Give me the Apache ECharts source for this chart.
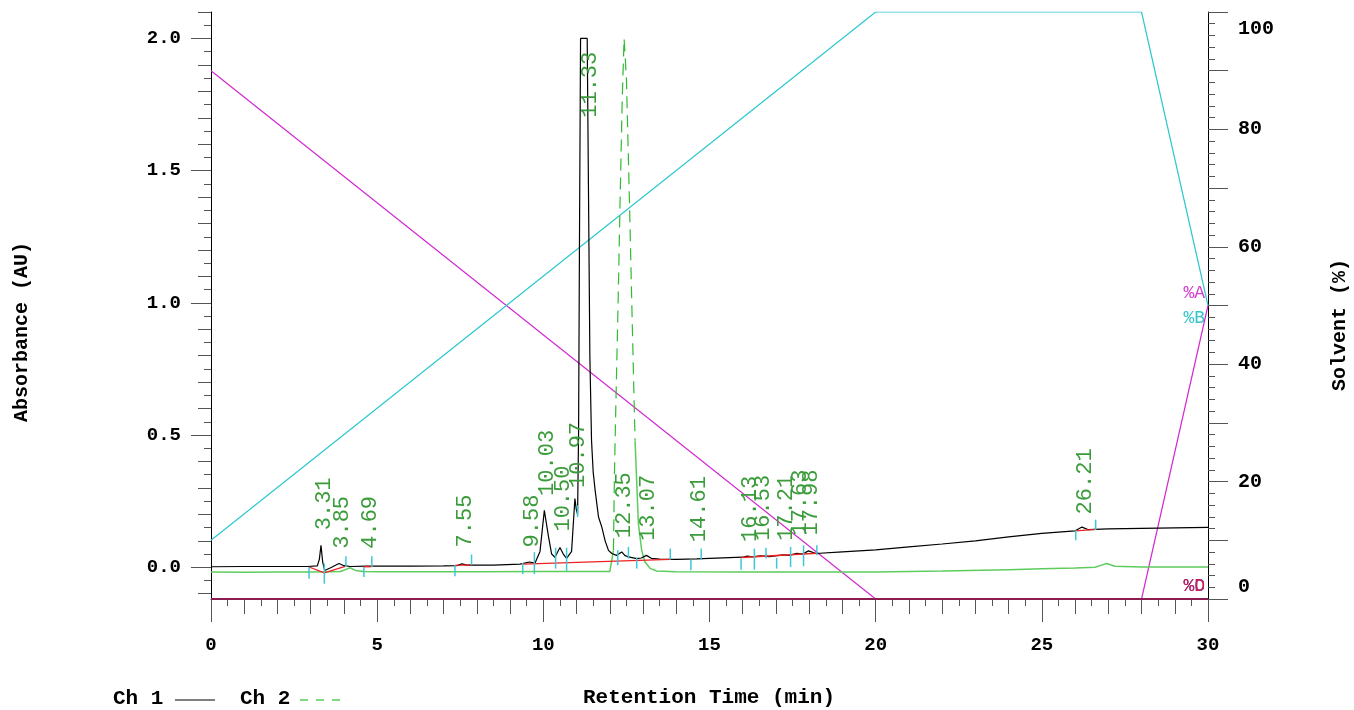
<!DOCTYPE html>
<html><head><meta charset="utf-8">
<script src="https://cdn.jsdelivr.net/npm/echarts@6/dist/echarts.min.js"></script>
<style>html,body{margin:0;padding:0;background:#fff}#c{width:1354px;height:710px}</style>
</head><body><div id="c"></div>
<script>
// ---- data ----
const ch1Time = [0, 1, 2, 2.9, 3.2, 3.26, 3.31, 3.36, 3.42, 3.6, 3.85, 4.0, 4.2, 4.69, 5, 6, 7, 7.4, 7.55, 7.7, 8.5, 9.3, 9.58, 9.75, 9.9, 10.03, 10.15, 10.25, 10.35, 10.5, 10.6, 10.7, 10.85, 10.95, 10.99, 11.03, 11.06, 11.09, 11.12, 11.32, 11.36, 11.4, 11.45, 11.5, 11.56, 11.66, 11.76, 11.86, 11.96, 12.06, 12.2, 12.36, 12.45, 12.56, 12.81, 12.95, 13.1, 13.25, 13.5, 14, 14.61, 15, 16, 16.13, 16.3, 16.53, 16.8, 17.21, 17.4, 17.63, 17.8, 17.98, 18.2, 19, 20, 21, 22, 23, 24, 25, 26, 26.21, 26.4, 27, 28, 29, 30];
const ch1Abs = [0.002, 0.003, 0.003, 0.003, 0.005, 0.03, 0.083, 0.02, -0.012, -0.002, 0.014, 0.006, 0.003, 0.004, 0.004, 0.004, 0.005, 0.006, 0.013, 0.008, 0.008, 0.012, 0.02, 0.016, 0.06, 0.215, 0.12, 0.05, 0.038, 0.075, 0.05, 0.034, 0.06, 0.26, 0.22, 0.2, 0.5, 1.3, 2.0, 2.0, 1.4, 0.8, 0.48, 0.36, 0.29, 0.19, 0.152, 0.1, 0.064, 0.052, 0.045, 0.058, 0.045, 0.039, 0.033, 0.035, 0.045, 0.034, 0.031, 0.03, 0.032, 0.034, 0.038, 0.042, 0.039, 0.043, 0.04, 0.047, 0.045, 0.053, 0.05, 0.062, 0.052, 0.058, 0.066, 0.077, 0.088, 0.1, 0.115, 0.128, 0.138, 0.152, 0.142, 0.145, 0.147, 0.149, 0.151];

const ch2Time = [0, 1, 2, 3, 3.5, 3.9, 4.1, 4.18, 4.35, 4.6, 5, 8, 10, 11, 12, 12.06, 12.11, 12.14, 12.18, 12.25, 12.31, 12.37, 12.43, 12.5, 12.59, 12.68, 12.76, 12.86, 12.96, 13.06, 13.21, 13.41, 14, 16, 18, 20, 22, 24, 25, 26, 26.6, 26.8, 26.95, 27.2, 28, 30];
const ch2Abs = [-0.018, -0.019, -0.018, -0.018, -0.017, -0.016, -0.006, -0.002, -0.012, -0.016, -0.017, -0.017, -0.016, -0.016, -0.016, -0.014, 0.064, 0.355, 0.6, 1.0, 1.39, 1.75, 2.0, 1.85, 1.39, 0.9, 0.48, 0.165, 0.064, 0.02, -0.004, -0.014, -0.017, -0.018, -0.018, -0.018, -0.014, -0.009, -0.006, -0.003, 0.0, 0.008, 0.014, 0.004, 0.001, 0.001];
const ch2DashFrom = 12.11, ch2DashTo = 12.76;

const solventTime = [0, 20, 28, 30];
const solventA = [90, 0, 0, 50];
const solventB = [10, 100, 100, 50];
const solventC = [0, 0, 0, 0];
const solventD = [0, 0, 0, 0];

const peakTimes = [3.31, 3.85, 4.69, 7.55, 9.58, 10.03, 10.50, 10.97, 11.33, 12.35, 13.07, 14.61, 16.13, 16.53, 17.21, 17.63, 17.98, 26.21];
const peakLabelAbs = [0.14, 0.07, 0.07, 0.075, 0.075, 0.27, 0.135, 0.30, 1.70, 0.11, 0.10, 0.095, 0.096, 0.10, 0.10, 0.12, 0.12, 0.20];

const markerTime = [2.95, 3.41, 4.06, 4.60, 4.84, 7.34, 7.84, 9.38, 9.73, 10.37, 10.70, 11.03, 12.24, 12.56, 12.81, 13.82, 14.44, 14.75, 15.95, 16.35, 16.70, 17.02, 17.44, 17.83, 18.23, 26.02, 26.62];
const markerTop = [0.001, 0.014, 0.042, 0.001, 0.042, 0.008, 0.048, 0.016, 0.057, 0.074, 0.074, 0.234, 0.064, 0.077, 0.037, 0.071, 0.029, 0.071, 0.033, 0.071, 0.074, 0.035, 0.077, 0.083, 0.083, 0.14, 0.18];
const markerBottom = [-0.043, -0.062, 0.001, -0.037, 0.001, -0.034, 0.008, -0.026, -0.026, -0.005, -0.014, 0.19, 0.008, 0.033, -0.005, 0.029, -0.011, 0.029, -0.009, -0.009, 0.033, -0.005, 0.001, 0.004, 0.045, 0.102, 0.14];

const baseStartT = [2.95, 3.41, 4.60, 7.34, 9.38, 15.95, 26.02];
const baseStartV = [0.001, -0.021, 0.002, 0.007, 0.012, 0.037, 0.138];
const baseEndT = [3.41, 4.06, 4.84, 7.84, 13.82, 18.23, 26.62];
const baseEndV = [-0.021, 0.004, 0.003, 0.009, 0.030, 0.053, 0.143];

const absTickLabels = [0, 0.5, 1.0, 1.5, 2.0];
const solventTickLabels = [0, 20, 40, 60, 80, 100];
const timeTickLabels = [0, 5, 10, 15, 20, 25, 30];
const legendNames = ['Ch 1', 'Ch 2'];

// ---- build ----
const FONT = '"Liberation Mono", "DejaVu Sans Mono", monospace';
const zip = (a, b) => a.map((x, i) => [x, b[i]]);
const ch1Data = zip(ch1Time, ch1Abs);
const ch2Solid = ch2Time.map((t, i) => (t > ch2DashFrom && t < ch2DashTo) ? [t, '-'] : [t, ch2Abs[i]]);
const ch2Dash = ch2Time.map((t, i) => [t, ch2Abs[i]]).filter(p => p[0] >= ch2DashFrom && p[0] <= ch2DashTo);
const steps = (a, b, s) => { const r = []; for (let v = a; v <= b + 1e-9; v += s) r.push(Math.round(v * 1000) / 1000); return r; };

const tickColor = '#555';
const yMin = -0.12, yMax = 2.1;
const ch1Color = '#000', ch2Color = '#5ccc5c', ch2DashColor = '#30bb30';
const solMin = solventTickLabels[0], solMax = solventTickLabels[solventTickLabels.length - 1];

const xBase = { type: 'value', min: 0, max: 30, position: 'bottom', splitLine: { show: false } };
const option = {
  animation: false,
  backgroundColor: '#fff',
  grid: { left: 211, right: 146, top: 12, bottom: 111, containLabel: false },
  xAxis: [
    Object.assign({}, xBase, { interval: 5,
      axisLine: { show: true, onZero: false, lineStyle: { color: '#444', width: 1 } },
      axisTick: { show: true, length: 23, lineStyle: { color: tickColor } },
      axisLabel: { margin: 37, fontFamily: FONT, fontWeight: 'bold', fontSize: 19, color: '#000',
                   customValues: timeTickLabels, formatter: v => String(v) } }),
    Object.assign({}, xBase, { interval: 1,
      axisLine: { show: false, onZero: false }, axisTick: { show: true, length: 15, lineStyle: { color: tickColor } },
      axisLabel: { show: false } }),
    Object.assign({}, xBase, { interval: 0.5,
      axisLine: { show: false, onZero: false }, axisTick: { show: true, length: 7, lineStyle: { color: tickColor } },
      axisLabel: { show: false } })
  ],
  yAxis: [
    { type: 'value', min: yMin, max: yMax, position: 'left',
      axisLine: { show: true, onZero: false, lineStyle: { color: '#000', width: 1 } },
      axisTick: { show: true, length: 20, customValues: absTickLabels, lineStyle: { color: tickColor } },
      axisLabel: { margin: 30, fontFamily: FONT, fontWeight: 'bold', fontSize: 19, color: '#000',
                   customValues: absTickLabels, formatter: v => v.toFixed(1) },
      splitLine: { show: false } },
    { type: 'value', min: yMin, max: yMax, position: 'left',
      axisLine: { show: false, onZero: false },
      axisTick: { show: true, length: 13, customValues: steps(-0.1, 2.1, 0.1), lineStyle: { color: tickColor } },
      axisLabel: { show: false }, splitLine: { show: false } },
    { type: 'value', min: yMin, max: yMax, position: 'left',
      axisLine: { show: false, onZero: false },
      axisTick: { show: true, length: 7, customValues: steps(-0.1, 2.1, 0.05), lineStyle: { color: tickColor } },
      axisLabel: { show: false }, splitLine: { show: false } },
    { type: 'value', min: solMin, max: solMax, interval: 10, position: 'right',
      axisLine: { show: true, onZero: false, lineStyle: { color: '#000', width: 1 } },
      axisTick: { show: true, length: 20, lineStyle: { color: tickColor } },
      minorTick: { show: true, splitNumber: 5, length: 7, lineStyle: { color: tickColor } },
      axisLabel: { margin: 30, fontFamily: FONT, fontWeight: 'bold', fontSize: 20, color: '#000',
                   customValues: solventTickLabels,
                   formatter: v => v === solMax ? '{hi|' + v + '}' : (v === solMin ? '{lo|' + v + '}' : String(v)),
                   rich: {
                     hi: { fontFamily: FONT, fontWeight: 'bold', fontSize: 20, padding: [7, 0, 0, 0] },
                     lo: { fontFamily: FONT, fontWeight: 'bold', fontSize: 20, padding: [0, 0, 2, 0] }
                   },
                   verticalAlignMinLabel: 'bottom', verticalAlignMaxLabel: 'top' },
      splitLine: { show: false } }
  ],
  graphic: [
    { type: 'text', x: 22, y: 332, rotation: Math.PI / 2,
      style: { text: 'Absorbance (AU)', font: 'bold 20px ' + FONT, fill: '#000', align: 'center', verticalAlign: 'middle' } },
    { type: 'text', x: 1340, y: 325, rotation: Math.PI / 2,
      style: { text: 'Solvent (%)', font: 'bold 20px ' + FONT, fill: '#000', align: 'center', verticalAlign: 'middle' } },
    { type: 'text', x: 709, y: 698,
      style: { text: 'Retention Time (min)', font: 'bold 21px ' + FONT, fill: '#000', align: 'center', verticalAlign: 'middle' } },
    { type: 'text', x: 1205, y: 293,
      style: { text: '%A', font: '18px ' + FONT, fill: '#d43ad4', align: 'right', verticalAlign: 'middle' } },
    { type: 'text', x: 1205, y: 318,
      style: { text: '%B', font: '18px ' + FONT, fill: '#33c4cc', align: 'right', verticalAlign: 'middle' } },
    { type: 'text', x: 1205, y: 586,
      style: { text: '%C', font: '18px ' + FONT, fill: '#4455dd', align: 'right', verticalAlign: 'middle' } },
    { type: 'text', x: 1205, y: 586,
      style: { text: '%D', font: '18px ' + FONT, fill: '#d01848', align: 'right', verticalAlign: 'middle' } },
    // legend
    { type: 'text', x: 113, y: 699,
      style: { text: legendNames[0], font: 'bold 21px ' + FONT, fill: '#000', align: 'left', verticalAlign: 'middle' } },
    { type: 'line', shape: { x1: 175, y1: 700, x2: 215, y2: 700 }, style: { stroke: '#555', lineWidth: 1.5 } },
    { type: 'text', x: 240, y: 699,
      style: { text: legendNames[1], font: 'bold 21px ' + FONT, fill: '#000', align: 'left', verticalAlign: 'middle' } },
    { type: 'line', shape: { x1: 300, y1: 700, x2: 346, y2: 700 }, style: { stroke: '#55cc55', lineWidth: 1.5, lineDash: [8, 8] } }
  ],
  series: [
    { name: '%A', type: 'line', xAxisIndex: 0, yAxisIndex: 3, data: zip(solventTime, solventA),
      symbol: 'none', lineStyle: { color: '#d22ad2', width: 1.2 }, z: 1, silent: true },
    { name: '%B', type: 'line', xAxisIndex: 0, yAxisIndex: 3, data: zip(solventTime, solventB),
      symbol: 'none', lineStyle: { color: '#2cc8d0', width: 1.2 }, z: 1, silent: true },
    { name: '%C', type: 'line', xAxisIndex: 0, yAxisIndex: 3, data: zip(solventTime, solventC),
      symbol: 'none', lineStyle: { color: '#3344cc', width: 2 }, z: 1, silent: true },
    { name: '%D', type: 'line', xAxisIndex: 0, yAxisIndex: 3, data: zip(solventTime, solventD),
      symbol: 'none', lineStyle: { color: '#8a1c52', width: 2 }, z: 2, silent: true },
    { name: legendNames[0], type: 'line', xAxisIndex: 0, yAxisIndex: 0, data: ch1Data,
      symbol: 'none', lineStyle: { color: ch1Color, width: 1.2 }, z: 4 },
    { name: legendNames[1], type: 'line', xAxisIndex: 0, yAxisIndex: 0, data: ch2Dash,
      symbol: 'none', lineStyle: { color: ch2DashColor, width: 1.2, type: [12, 7] }, z: 3 },
    { name: 'Ch 2 base', type: 'line', xAxisIndex: 0, yAxisIndex: 0, data: ch2Solid, connectNulls: false,
      symbol: 'none', lineStyle: { color: ch2Color, width: 1.5 }, z: 3 },
    { name: 'baseline', type: 'custom', xAxisIndex: 0, yAxisIndex: 0, z: 5,
      data: baseStartT.map((t, i) => [t, baseStartV[i], baseEndT[i], baseEndV[i]]),
      renderItem: (p, api) => {
        const a = api.coord([api.value(0), api.value(1)]);
        const b = api.coord([api.value(2), api.value(3)]);
        return { type: 'line', shape: { x1: a[0], y1: a[1], x2: b[0], y2: b[1] },
                 style: { stroke: '#ee2020', lineWidth: 1.3 } };
      } },
    { name: 'markers', type: 'custom', xAxisIndex: 0, yAxisIndex: 0, z: 6,
      data: markerTime.map((t, i) => [t, markerTop[i], markerBottom[i]]),
      renderItem: (p, api) => {
        const a = api.coord([api.value(0), api.value(1)]);
        const b = api.coord([api.value(0), api.value(2)]);
        return { type: 'line', shape: { x1: a[0], y1: a[1], x2: b[0], y2: b[1] },
                 style: { stroke: '#3cc8d8', lineWidth: 1.5 } };
      } },
    { name: 'peakLabels', type: 'custom', xAxisIndex: 0, yAxisIndex: 0, z: 7,
      data: peakTimes.map((t, i) => [t, peakLabelAbs[i]]),
      renderItem: (p, api) => {
        const a = api.coord([api.value(0), api.value(1)]);
        return { type: 'text', x: a[0] + 3, y: a[1], rotation: Math.PI / 2,
                 style: { text: api.value(0).toFixed(2), font: '22px ' + FONT, fill: '#3c9c3c',
                          align: 'left', verticalAlign: 'middle' } };
      } }
  ]
};

const chart = echarts.init(document.getElementById('c'), null, { renderer: 'canvas' });
chart.setOption(option);
</script>
</body></html>
